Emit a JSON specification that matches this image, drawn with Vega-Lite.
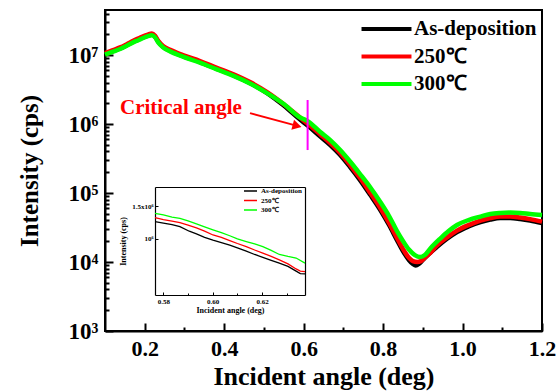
{
  "$schema": "https://vega.github.io/schema/vega-lite/v6.json",
  "width": 437,
  "height": 321,
  "autosize": {"type": "none"},
  "padding": {"left": 105, "top": 10, "right": 14, "bottom": 60},
  "background": "white",
  "config": {
    "view": {"stroke": "black", "strokeWidth": 2},
    "font": "Liberation Serif",
    "axis": {"grid": false, "domainColor": "black", "tickColor": "black", "labelColor": "black", "titleColor": "black", "labelFont": "Liberation Serif", "titleFont": "Liberation Serif", "labelFontWeight": "bold", "titleFontWeight": "bold", "labelFlush": false, "labelOverlap": false, "labelBound": false},
    "legend": {"labelFont": "Liberation Serif", "labelFontWeight": "bold", "labelColor": "black"}
  },
  "datasets": {
    "main": [
      {"angle": 0.100, "intensity": 10340000, "sample": "As-deposition"},
      {"angle": 0.120, "intensity": 11430000, "sample": "As-deposition"},
      {"angle": 0.138, "intensity": 12510000, "sample": "As-deposition"},
      {"angle": 0.155, "intensity": 13960000, "sample": "As-deposition"},
      {"angle": 0.171, "intensity": 15590000, "sample": "As-deposition"},
      {"angle": 0.185, "intensity": 16900000, "sample": "As-deposition"},
      {"angle": 0.196, "intensity": 18060000, "sample": "As-deposition"},
      {"angle": 0.208, "intensity": 19180000, "sample": "As-deposition"},
      {"angle": 0.218, "intensity": 19820000, "sample": "As-deposition"},
      {"angle": 0.226, "intensity": 18420000, "sample": "As-deposition"},
      {"angle": 0.234, "intensity": 15590000, "sample": "As-deposition"},
      {"angle": 0.246, "intensity": 13190000, "sample": "As-deposition"},
      {"angle": 0.264, "intensity": 11540000, "sample": "As-deposition"},
      {"angle": 0.296, "intensity": 9680000, "sample": "As-deposition"},
      {"angle": 0.339, "intensity": 7920000, "sample": "As-deposition"},
      {"angle": 0.380, "intensity": 6370000, "sample": "As-deposition"},
      {"angle": 0.422, "intensity": 5130000, "sample": "As-deposition"},
      {"angle": 0.465, "intensity": 3930000, "sample": "As-deposition"},
      {"angle": 0.508, "intensity": 2810000, "sample": "As-deposition"},
      {"angle": 0.550, "intensity": 1853000, "sample": "As-deposition"},
      {"angle": 0.591, "intensity": 1162000, "sample": "As-deposition"},
      {"angle": 0.610, "intensity": 951000, "sample": "As-deposition"},
      {"angle": 0.642, "intensity": 659000, "sample": "As-deposition"},
      {"angle": 0.667, "intensity": 496000, "sample": "As-deposition"},
      {"angle": 0.692, "intensity": 356000, "sample": "As-deposition"},
      {"angle": 0.717, "intensity": 238000, "sample": "As-deposition"},
      {"angle": 0.742, "intensity": 154200, "sample": "As-deposition"},
      {"angle": 0.768, "intensity": 93500, "sample": "As-deposition"},
      {"angle": 0.793, "intensity": 56700, "sample": "As-deposition"},
      {"angle": 0.815, "intensity": 34400, "sample": "As-deposition"},
      {"angle": 0.835, "intensity": 20800, "sample": "As-deposition"},
      {"angle": 0.850, "intensity": 14430, "sample": "As-deposition"},
      {"angle": 0.865, "intensity": 10690, "sample": "As-deposition"},
      {"angle": 0.875, "intensity": 9350, "sample": "As-deposition"},
      {"angle": 0.882, "intensity": 8900, "sample": "As-deposition"},
      {"angle": 0.890, "intensity": 9350, "sample": "As-deposition"},
      {"angle": 0.900, "intensity": 10690, "sample": "As-deposition"},
      {"angle": 0.915, "intensity": 13060, "sample": "As-deposition"},
      {"angle": 0.935, "intensity": 16490, "sample": "As-deposition"},
      {"angle": 0.960, "intensity": 21540, "sample": "As-deposition"},
      {"angle": 0.986, "intensity": 27200, "sample": "As-deposition"},
      {"angle": 1.015, "intensity": 32700, "sample": "As-deposition"},
      {"angle": 1.045, "intensity": 38000, "sample": "As-deposition"},
      {"angle": 1.070, "intensity": 41300, "sample": "As-deposition"},
      {"angle": 1.095, "intensity": 43400, "sample": "As-deposition"},
      {"angle": 1.120, "intensity": 43400, "sample": "As-deposition"},
      {"angle": 1.145, "intensity": 42000, "sample": "As-deposition"},
      {"angle": 1.170, "intensity": 39900, "sample": "As-deposition"},
      {"angle": 1.200, "intensity": 36700, "sample": "As-deposition"},

      {"angle": 0.100, "intensity": 10700000, "sample": "250℃"},
      {"angle": 0.120, "intensity": 11800000, "sample": "250℃"},
      {"angle": 0.138, "intensity": 12900000, "sample": "250℃"},
      {"angle": 0.155, "intensity": 14400000, "sample": "250℃"},
      {"angle": 0.171, "intensity": 16100000, "sample": "250℃"},
      {"angle": 0.185, "intensity": 17500000, "sample": "250℃"},
      {"angle": 0.196, "intensity": 18700000, "sample": "250℃"},
      {"angle": 0.208, "intensity": 19800000, "sample": "250℃"},
      {"angle": 0.218, "intensity": 20500000, "sample": "250℃"},
      {"angle": 0.226, "intensity": 19000000, "sample": "250℃"},
      {"angle": 0.234, "intensity": 16100000, "sample": "250℃"},
      {"angle": 0.246, "intensity": 13600000, "sample": "250℃"},
      {"angle": 0.264, "intensity": 11900000, "sample": "250℃"},
      {"angle": 0.296, "intensity": 10000000, "sample": "250℃"},
      {"angle": 0.339, "intensity": 8200000, "sample": "250℃"},
      {"angle": 0.380, "intensity": 6600000, "sample": "250℃"},
      {"angle": 0.422, "intensity": 5300000, "sample": "250℃"},
      {"angle": 0.465, "intensity": 4060000, "sample": "250℃"},
      {"angle": 0.508, "intensity": 2910000, "sample": "250℃"},
      {"angle": 0.550, "intensity": 1940000, "sample": "250℃"},
      {"angle": 0.591, "intensity": 1240000, "sample": "250℃"},
      {"angle": 0.610, "intensity": 1015000, "sample": "250℃"},
      {"angle": 0.642, "intensity": 705000, "sample": "250℃"},
      {"angle": 0.667, "intensity": 530000, "sample": "250℃"},
      {"angle": 0.692, "intensity": 381000, "sample": "250℃"},
      {"angle": 0.717, "intensity": 255000, "sample": "250℃"},
      {"angle": 0.742, "intensity": 165000, "sample": "250℃"},
      {"angle": 0.768, "intensity": 100000, "sample": "250℃"},
      {"angle": 0.793, "intensity": 60600, "sample": "250℃"},
      {"angle": 0.815, "intensity": 36800, "sample": "250℃"},
      {"angle": 0.835, "intensity": 22300, "sample": "250℃"},
      {"angle": 0.850, "intensity": 15500, "sample": "250℃"},
      {"angle": 0.865, "intensity": 11500, "sample": "250℃"},
      {"angle": 0.875, "intensity": 10300, "sample": "250℃"},
      {"angle": 0.886, "intensity": 10000, "sample": "250℃"},
      {"angle": 0.895, "intensity": 10300, "sample": "250℃"},
      {"angle": 0.905, "intensity": 11500, "sample": "250℃"},
      {"angle": 0.920, "intensity": 13800, "sample": "250℃"},
      {"angle": 0.935, "intensity": 17300, "sample": "250℃"},
      {"angle": 0.960, "intensity": 22600, "sample": "250℃"},
      {"angle": 0.986, "intensity": 28500, "sample": "250℃"},
      {"angle": 1.015, "intensity": 34300, "sample": "250℃"},
      {"angle": 1.045, "intensity": 39900, "sample": "250℃"},
      {"angle": 1.070, "intensity": 43400, "sample": "250℃"},
      {"angle": 1.095, "intensity": 45600, "sample": "250℃"},
      {"angle": 1.120, "intensity": 45600, "sample": "250℃"},
      {"angle": 1.145, "intensity": 44100, "sample": "250℃"},
      {"angle": 1.170, "intensity": 41900, "sample": "250℃"},
      {"angle": 1.200, "intensity": 38500, "sample": "250℃"},

      {"angle": 0.100, "intensity": 10130000, "sample": "300℃"},
      {"angle": 0.120, "intensity": 11200000, "sample": "300℃"},
      {"angle": 0.138, "intensity": 12260000, "sample": "300℃"},
      {"angle": 0.155, "intensity": 13680000, "sample": "300℃"},
      {"angle": 0.171, "intensity": 15280000, "sample": "300℃"},
      {"angle": 0.185, "intensity": 16560000, "sample": "300℃"},
      {"angle": 0.196, "intensity": 17700000, "sample": "300℃"},
      {"angle": 0.208, "intensity": 18800000, "sample": "300℃"},
      {"angle": 0.218, "intensity": 19420000, "sample": "300℃"},
      {"angle": 0.226, "intensity": 18050000, "sample": "300℃"},
      {"angle": 0.234, "intensity": 15280000, "sample": "300℃"},
      {"angle": 0.246, "intensity": 12930000, "sample": "300℃"},
      {"angle": 0.264, "intensity": 11310000, "sample": "300℃"},
      {"angle": 0.296, "intensity": 9490000, "sample": "300℃"},
      {"angle": 0.339, "intensity": 7760000, "sample": "300℃"},
      {"angle": 0.380, "intensity": 6240000, "sample": "300℃"},
      {"angle": 0.422, "intensity": 5030000, "sample": "300℃"},
      {"angle": 0.465, "intensity": 3870000, "sample": "300℃"},
      {"angle": 0.508, "intensity": 2810000, "sample": "300℃"},
      {"angle": 0.550, "intensity": 1950000, "sample": "300℃"},
      {"angle": 0.591, "intensity": 1242000, "sample": "300℃"},
      {"angle": 0.610, "intensity": 1105000, "sample": "300℃"},
      {"angle": 0.642, "intensity": 765000, "sample": "300℃"},
      {"angle": 0.667, "intensity": 586000, "sample": "300℃"},
      {"angle": 0.692, "intensity": 420000, "sample": "300℃"},
      {"angle": 0.717, "intensity": 286000, "sample": "300℃"},
      {"angle": 0.742, "intensity": 188500, "sample": "300℃"},
      {"angle": 0.768, "intensity": 120200, "sample": "300℃"},
      {"angle": 0.793, "intensity": 74100, "sample": "300℃"},
      {"angle": 0.815, "intensity": 46400, "sample": "300℃"},
      {"angle": 0.835, "intensity": 28100, "sample": "300℃"},
      {"angle": 0.850, "intensity": 20200, "sample": "300℃"},
      {"angle": 0.865, "intensity": 15180, "sample": "300℃"},
      {"angle": 0.880, "intensity": 12620, "sample": "300℃"},
      {"angle": 0.893, "intensity": 11810, "sample": "300℃"},
      {"angle": 0.905, "intensity": 12620, "sample": "300℃"},
      {"angle": 0.920, "intensity": 15960, "sample": "300℃"},
      {"angle": 0.944, "intensity": 21900, "sample": "300℃"},
      {"angle": 0.965, "intensity": 28100, "sample": "300℃"},
      {"angle": 0.986, "intensity": 34400, "sample": "300℃"},
      {"angle": 1.015, "intensity": 40600, "sample": "300℃"},
      {"angle": 1.045, "intensity": 45600, "sample": "300℃"},
      {"angle": 1.070, "intensity": 49600, "sample": "300℃"},
      {"angle": 1.095, "intensity": 51300, "sample": "300℃"},
      {"angle": 1.120, "intensity": 52000, "sample": "300℃"},
      {"angle": 1.145, "intensity": 51300, "sample": "300℃"},
      {"angle": 1.170, "intensity": 49600, "sample": "300℃"},
      {"angle": 1.200, "intensity": 48000, "sample": "300℃"}
    ],
    "inset": [
      {"angle": 0.5766, "intensity": 1237000, "sample": "As-deposition"},
      {"angle": 0.5800, "intensity": 1215000, "sample": "As-deposition"},
      {"angle": 0.5835, "intensity": 1195000, "sample": "As-deposition"},
      {"angle": 0.5867, "intensity": 1164000, "sample": "As-deposition"},
      {"angle": 0.5905, "intensity": 1100000, "sample": "As-deposition"},
      {"angle": 0.5934, "intensity": 1065000, "sample": "As-deposition"},
      {"angle": 0.5967, "intensity": 1020000, "sample": "As-deposition"},
      {"angle": 0.6001, "intensity": 985000, "sample": "As-deposition"},
      {"angle": 0.6035, "intensity": 955000, "sample": "As-deposition"},
      {"angle": 0.6069, "intensity": 925000, "sample": "As-deposition"},
      {"angle": 0.6100, "intensity": 895000, "sample": "As-deposition"},
      {"angle": 0.6136, "intensity": 860000, "sample": "As-deposition"},
      {"angle": 0.6170, "intensity": 825000, "sample": "As-deposition"},
      {"angle": 0.6203, "intensity": 797000, "sample": "As-deposition"},
      {"angle": 0.6237, "intensity": 768000, "sample": "As-deposition"},
      {"angle": 0.6270, "intensity": 742000, "sample": "As-deposition"},
      {"angle": 0.6305, "intensity": 712000, "sample": "As-deposition"},
      {"angle": 0.6338, "intensity": 672000, "sample": "As-deposition"},
      {"angle": 0.6355, "intensity": 652000, "sample": "As-deposition"},
      {"angle": 0.6374, "intensity": 650000, "sample": "As-deposition"},

      {"angle": 0.5766, "intensity": 1300000, "sample": "250℃"},
      {"angle": 0.5800, "intensity": 1268000, "sample": "250℃"},
      {"angle": 0.5835, "intensity": 1245000, "sample": "250℃"},
      {"angle": 0.5867, "intensity": 1222000, "sample": "250℃"},
      {"angle": 0.5900, "intensity": 1185000, "sample": "250℃"},
      {"angle": 0.5934, "intensity": 1145000, "sample": "250℃"},
      {"angle": 0.5967, "intensity": 1100000, "sample": "250℃"},
      {"angle": 0.6001, "intensity": 1050000, "sample": "250℃"},
      {"angle": 0.6035, "intensity": 1020000, "sample": "250℃"},
      {"angle": 0.6069, "intensity": 980000, "sample": "250℃"},
      {"angle": 0.6100, "intensity": 945000, "sample": "250℃"},
      {"angle": 0.6136, "intensity": 910000, "sample": "250℃"},
      {"angle": 0.6170, "intensity": 872000, "sample": "250℃"},
      {"angle": 0.6203, "intensity": 840000, "sample": "250℃"},
      {"angle": 0.6237, "intensity": 805000, "sample": "250℃"},
      {"angle": 0.6270, "intensity": 772000, "sample": "250℃"},
      {"angle": 0.6305, "intensity": 735000, "sample": "250℃"},
      {"angle": 0.6338, "intensity": 690000, "sample": "250℃"},
      {"angle": 0.6355, "intensity": 672000, "sample": "250℃"},
      {"angle": 0.6374, "intensity": 668000, "sample": "250℃"},

      {"angle": 0.5766, "intensity": 1372000, "sample": "300℃"},
      {"angle": 0.5800, "intensity": 1345000, "sample": "300℃"},
      {"angle": 0.5835, "intensity": 1310000, "sample": "300℃"},
      {"angle": 0.5867, "intensity": 1290000, "sample": "300℃"},
      {"angle": 0.5900, "intensity": 1250000, "sample": "300℃"},
      {"angle": 0.5934, "intensity": 1205000, "sample": "300℃"},
      {"angle": 0.5967, "intensity": 1160000, "sample": "300℃"},
      {"angle": 0.6001, "intensity": 1118000, "sample": "300℃"},
      {"angle": 0.6035, "intensity": 1080000, "sample": "300℃"},
      {"angle": 0.6069, "intensity": 1040000, "sample": "300℃"},
      {"angle": 0.6100, "intensity": 1000000, "sample": "300℃"},
      {"angle": 0.6136, "intensity": 968000, "sample": "300℃"},
      {"angle": 0.6170, "intensity": 940000, "sample": "300℃"},
      {"angle": 0.6203, "intensity": 910000, "sample": "300℃"},
      {"angle": 0.6237, "intensity": 868000, "sample": "300℃"},
      {"angle": 0.6270, "intensity": 825000, "sample": "300℃"},
      {"angle": 0.6305, "intensity": 805000, "sample": "300℃"},
      {"angle": 0.6338, "intensity": 790000, "sample": "300℃"},
      {"angle": 0.6374, "intensity": 742000, "sample": "300℃"}
    ],
    "marker": [{"angle": 0.61, "intensity": 2230000, "intensity2": 420000}],
    "label": [{"angle": 0.1378, "intensity": 1710000, "text": "Critical angle"}],
    "arrow": [{"angle": 0.465, "intensity": 1440000}, {"angle": 0.5815, "intensity": 948000}],
    "arrowhead": [{"angle": 0.5835, "intensity": 940000}]
  },
  "layer": [
    {
      "data": {"name": "main"},
      "mark": {"type": "line", "strokeWidth": 4.5, "interpolate": "monotone"},
      "encoding": {
        "x": {"field": "angle", "type": "quantitative",
          "scale": {"domain": [0.1, 1.2], "nice": false, "zero": false},
          "axis": {"orient": "bottom", "title": "Incident angle (deg)",
            "values": [0.2, 0.3, 0.4, 0.5, 0.6, 0.7, 0.8, 0.9, 1, 1.1, 1.2],
            "labelExpr": "indexof([0.2,0.4,0.6,0.8,1,1.2], datum.value) >= 0 ? format(datum.value, '.1f') : ''",
            "tickSize": {"condition": {"test": "indexof([0.2,0.4,0.6,0.8,1,1.2], datum.value) >= 0", "value": -8}, "value": -4},
            "tickWidth": 2, "domainWidth": 2, "labelFontSize": 22, "labelPadding": 15,
            "titleFontSize": 26, "titlePadding": 0}},
        "y": {"field": "intensity", "type": "quantitative",
          "scale": {"type": "log", "domain": [1000, 45000000], "nice": false},
          "axis": {"orient": "left", "title": "Intensity (cps)",
            "values": [1000, 2000, 3000, 4000, 5000, 6000, 7000, 8000, 9000, 10000, 20000, 30000, 40000, 50000, 60000, 70000, 80000, 90000, 100000, 200000, 300000, 400000, 500000, 600000, 700000, 800000, 900000, 1000000, 2000000, 3000000, 4000000, 5000000, 6000000, 7000000, 8000000, 9000000, 10000000, 20000000, 30000000, 40000000],
            "labelExpr": "datum.value == 1000 ? '10³' : datum.value == 10000 ? '10⁴' : datum.value == 100000 ? '10⁵' : datum.value == 1000000 ? '10⁶' : datum.value == 10000000 ? '10⁷' : ''",
            "tickSize": {"condition": {"test": "indexof([1000,10000,100000,1000000,10000000], datum.value) >= 0", "value": -8}, "value": -4},
            "tickWidth": 2, "domainWidth": 2, "labelFontSize": 23, "labelPadding": 15,
            "titleFontSize": 25, "titlePadding": 26}},
        "color": {"field": "sample", "type": "nominal",
          "scale": {"domain": ["As-deposition", "250℃", "300℃"], "range": ["#000000", "#ff0000", "#00ff00"]},
          "legend": {"orient": "none", "legendX": 271, "legendY": 8.5, "title": null,
            "symbolType": "M-4,0H4", "symbolSize": 156, "symbolStrokeWidth": 4,
            "labelFontSize": 21, "labelOffset": 17, "rowPadding": 5.5, "padding": 0}}
      }
    },
    {
      "data": {"name": "marker"},
      "mark": {"type": "rule", "color": "#ff00ff", "strokeWidth": 2},
      "encoding": {
        "x": {"field": "angle", "type": "quantitative", "scale": {"domain": [0.1, 1.2], "nice": false, "zero": false}, "axis": null},
        "y": {"field": "intensity", "type": "quantitative", "scale": {"type": "log", "domain": [1000, 45000000], "nice": false}, "axis": null},
        "y2": {"field": "intensity2"}
      }
    },
    {
      "data": {"name": "label"},
      "mark": {"type": "text", "align": "left", "baseline": "middle", "color": "#ff0000", "fontSize": 21, "fontWeight": "bold", "font": "Liberation Serif"},
      "encoding": {
        "x": {"field": "angle", "type": "quantitative", "scale": {"domain": [0.1, 1.2], "nice": false, "zero": false}, "axis": null},
        "y": {"field": "intensity", "type": "quantitative", "scale": {"type": "log", "domain": [1000, 45000000], "nice": false}, "axis": null},
        "text": {"field": "text"}
      }
    },
    {
      "data": {"name": "arrow"},
      "mark": {"type": "line", "color": "#ff0000", "strokeWidth": 2},
      "encoding": {
        "x": {"field": "angle", "type": "quantitative", "scale": {"domain": [0.1, 1.2], "nice": false, "zero": false}, "axis": null},
        "y": {"field": "intensity", "type": "quantitative", "scale": {"type": "log", "domain": [1000, 45000000], "nice": false}, "axis": null}
      }
    },
    {
      "data": {"name": "arrowhead"},
      "mark": {"type": "point", "shape": "triangle-right", "filled": true, "color": "#ff0000", "size": 110, "angle": 15, "opacity": 1},
      "encoding": {
        "x": {"field": "angle", "type": "quantitative", "scale": {"domain": [0.1, 1.2], "nice": false, "zero": false}, "axis": null},
        "y": {"field": "intensity", "type": "quantitative", "scale": {"type": "log", "domain": [1000, 45000000], "nice": false}, "axis": null}
      }
    },
    {
      "data": {"name": "inset"},
      "mark": {"type": "line", "strokeWidth": 1.3},
      "encoding": {
        "x": {"field": "angle", "type": "quantitative",
          "scale": {"domain": [0.5766, 0.6374], "range": [50, 200], "nice": false, "zero": false},
          "axis": {"orient": "bottom", "offset": -36, "title": "Incident angle (deg)",
            "values": [0.58, 0.59, 0.6, 0.61, 0.62, 0.63],
            "labelExpr": "indexof([0.58,0.6,0.62], datum.value) >= 0 ? format(datum.value, '.2f') : ''",
            "tickSize": {"condition": {"test": "indexof([0.58,0.6,0.62], datum.value) >= 0", "value": -3}, "value": -2},
            "tickWidth": 1, "domainWidth": 1.2, "labelFontSize": 7, "labelPadding": 5,
            "titleFontSize": 8, "titlePadding": 1}},
        "y": {"field": "intensity", "type": "quantitative",
          "scale": {"type": "log", "domain": [500000, 1900000], "range": [285, 177], "nice": false},
          "axis": {"orient": "left", "offset": -50, "title": "Intensity (cps)",
            "values": [1000000, 1500000],
            "labelExpr": "datum.value == 1500000 ? '1.5x10⁶' : '10⁶'",
            "tickSize": -3, "tickWidth": 1, "domainWidth": 1.2, "labelFontSize": 7, "labelPadding": 5,
            "titleFontSize": 8, "titlePadding": 4}},
        "color": {"field": "sample", "type": "nominal",
          "scale": {"domain": ["As-deposition", "250℃", "300℃"], "range": ["#000000", "#ff0000", "#00ff00"]},
          "legend": {"orient": "none", "legendX": 142, "legendY": 177.5, "title": null,
            "symbolType": "M-4,0H4", "symbolSize": 10.6, "symbolStrokeWidth": 1.5,
            "labelFontSize": 7, "labelOffset": 7, "rowPadding": 1.5, "padding": 0}}
      }
    },
    {
      "data": {"name": "inset"},
      "mark": {"type": "point", "opacity": 0},
      "encoding": {
        "x": {"field": "angle", "type": "quantitative",
          "scale": {"domain": [0.5766, 0.6374], "range": [50, 200], "nice": false, "zero": false},
          "axis": {"orient": "top", "offset": -177, "ticks": false, "labels": false, "title": null, "domainWidth": 1.2}},
        "y": {"field": "intensity", "type": "quantitative",
          "scale": {"type": "log", "domain": [500000, 1900000], "range": [285, 177], "nice": false},
          "axis": {"orient": "right", "offset": -237, "ticks": false, "labels": false, "title": null, "domainWidth": 1.2}}
      }
    }
  ],
  "resolve": {
    "scale": {"x": "independent", "y": "independent", "color": "independent"},
    "axis": {"x": "independent", "y": "independent"},
    "legend": {"color": "independent"}
  }
}
